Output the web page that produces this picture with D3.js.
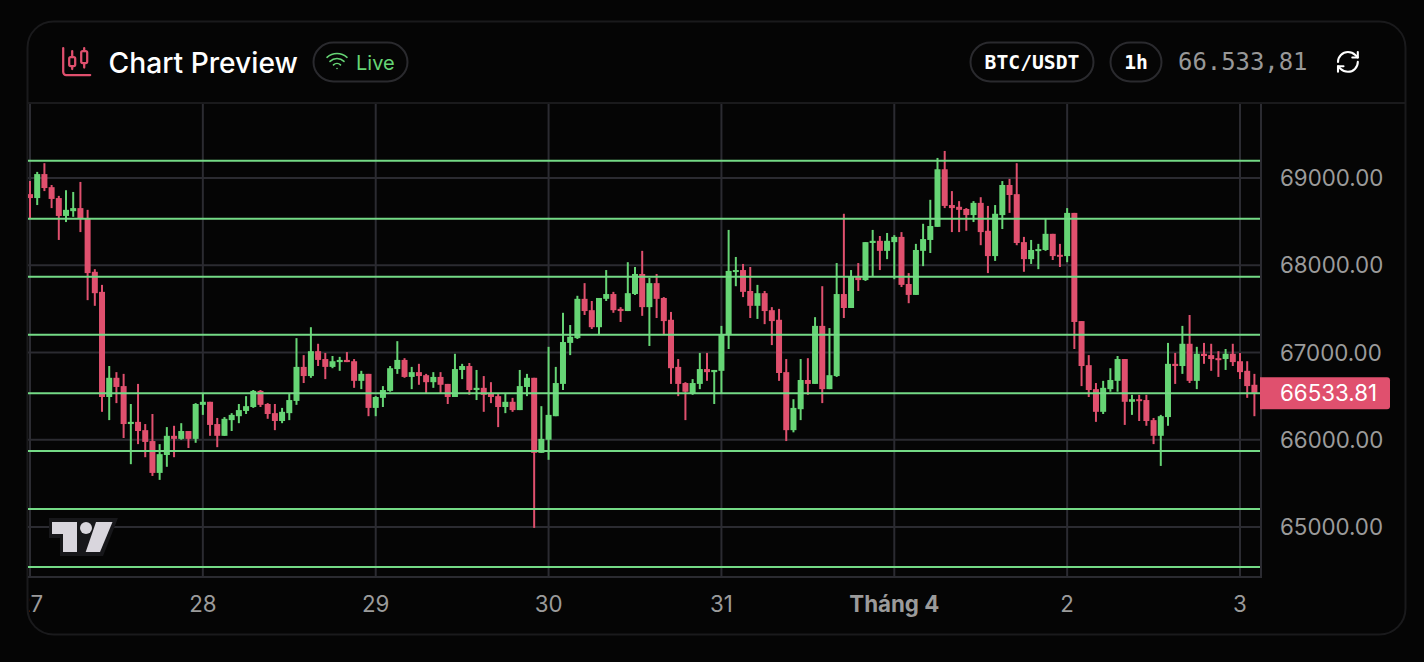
<!DOCTYPE html>
<html>
<head>
<meta charset="utf-8">
<script src="https://cdn.jsdelivr.net/npm/d3@7"></script>
<style>
    html, body { margin: 0; padding: 0; background: #050505; overflow: hidden; }
    text { font-family: Inter, "Noto Sans", sans-serif; }
    .domain { display: none; }
</style>
</head>
<body>
<div id="chartDiv"></div>
<script>
const pageWidth = 1424;
const pageHeight = 662;

// BTC/USDT hourly candles
const opens = [68815,68770,69045,68895,68770,68565,68620,68655,68530,67925,67695,66490,66710,66615,66180,66205,66110,65985,65620,65825,66045,66010,66100,66010,
    66400,66435,66180,66045,66225,66270,66330,66375,66560,66410,66305,66215,66305,66445,66835,66730,67015,66925,66835,66890,66915,66900,66675,66755,
    66365,66480,66560,66810,66915,66720,66775,66740,66660,66720,66640,66490,66800,66845,66570,66595,66525,66500,66375,66435,66340,66605,66710,65850,
    66000,66270,66640,67110,67165,67615,67485,67290,67615,67670,67500,67475,67670,67900,67520,67795,67625,67375,66835,66650,66535,66640,66810,66775,
    66790,67200,67925,67945,67705,67535,67680,67485,67375,66775,66110,66350,66685,66640,67305,66580,66730,67670,67510,67865,67830,68255,68280,68165,
    68265,68325,67785,67660,68165,68290,68440,69100,68690,68670,68645,68575,68715,68395,68105,68575,68920,68815,68265,68070,68165,68175,68360,68120,
    68105,68600,67360,66855,66580,66320,66580,66675,66925,66435,66465,66455,66225,66045,66260,66870,66845,67100,66675,66985,66970,66935,66925,66985,
    66900,66790,66630];
const highs = [68965,69070,69170,68920,68795,68860,68840,68955,68635,67955,67775,66845,66775,66755,66410,66640,66180,66295,65950,66145,66160,66190,66100,66420,
    66535,66435,66250,66260,66305,66410,66500,66570,66570,66420,66410,66365,66535,67165,66970,67290,67100,66995,66960,66950,67005,66925,66790,66755,
    66500,66615,66845,67130,66935,66835,66870,66755,66775,66775,66640,66985,66870,66880,66800,66730,66660,66525,66525,66480,66800,66755,66710,66385,
    67065,66835,67455,67315,67650,67795,67590,67625,67945,67695,67520,68035,67980,68165,67855,67900,67635,67465,66925,66660,66695,66995,66995,66800,
    67305,68405,68095,68015,67980,67775,67705,67520,67500,66925,66465,66925,66935,67405,67760,67280,68025,68590,67945,68025,68265,68405,68335,68370,
    68345,68380,67910,68245,68475,68750,69230,69310,68850,68735,68655,68735,68780,68680,68690,68965,68990,69170,68325,68290,68245,68530,68360,68245,
    68655,68600,67360,66970,66650,66675,66820,66960,66925,66515,66515,66515,66250,66285,67110,66995,67305,67430,67065,67110,67100,67015,67040,67100,
    66995,66900,66755];
const lows = [68540,68690,68850,68655,68290,68495,68555,68380,67600,67535,66320,66225,66420,66020,65720,65950,65800,65585,65540,65690,65800,66000,65905,65965,
    66285,66045,65915,66045,66100,66190,66295,66365,66375,66240,66110,66190,66225,66400,66650,66710,66845,66695,66820,66790,66890,66595,66580,66270,
    66270,66375,66550,66755,66710,66580,66630,66535,66595,66535,66410,66490,66695,66515,66455,66320,66420,66145,66305,66320,66340,66500,64990,65850,
    65770,66270,66570,66970,67155,67430,67270,67200,67590,67455,67350,67475,67660,67420,67075,67395,67200,66640,66500,66225,66515,66580,66675,66410,
    66535,67040,67760,67635,67395,67385,67325,67085,66675,65985,66085,66225,66515,66640,66420,66580,66720,67395,67510,67705,67820,67865,67945,68070,
    67840,67750,67565,67660,67990,68140,68440,68655,68380,68380,68395,68495,68230,67910,68050,68415,68600,68230,67925,68015,67955,68165,68060,67980,
    68035,67040,66615,66490,66205,66295,66550,66550,66170,66285,66215,66160,65950,65700,66160,66640,66755,66650,66580,66870,66790,66720,66800,66845,
    66695,66480,66270];
const closes = [68770,69045,68885,68760,68565,68635,68655,68530,67910,67680,66490,66710,66605,66180,66205,66100,65975,65620,65835,66045,66010,66100,66010,66410,
    66435,66170,66045,66240,66285,66340,66385,66560,66400,66295,66215,66320,66455,66835,66730,67015,66915,66835,66900,66915,66890,66675,66755,66365,
    66490,66570,66820,66915,66720,66775,66730,66660,66720,66630,66490,66810,66845,66570,66595,66515,66490,66375,66435,66340,66615,66710,65850,66010,
    66285,66650,67120,67180,67615,67475,67290,67625,67670,67485,67475,67680,67900,67520,67795,67615,67360,66820,66640,66550,66650,66810,66775,66800,
    67200,67935,67945,67695,67535,67680,67475,67360,66765,66110,66365,66685,66640,67305,66580,66740,67670,67510,67865,67830,68265,68280,68165,68280,
    68325,67775,67660,68175,68300,68450,69100,68680,68655,68635,68575,68715,68380,68105,68590,68920,68805,68255,68070,68175,68185,68360,68105,68105,
    68600,67350,66845,66570,66320,66595,66685,66925,66435,66465,66445,66215,66045,66270,66870,66845,67100,66675,66985,66960,66925,66925,66985,66890,
    66775,66615,66533.81];

// hour index of each day tick, with its label
const dayTicks = [0, 24, 48, 72, 96, 120, 144, 168];
const dayLabels = ["27", "28", "29", "30", "31", "Tháng 4", "2", "3"];
const priceTicks = [65000, 66000, 67000, 68000, 69000];
const priceLines = [69198, 68533, 67868, 67204, 66533.81, 65871, 65207, 64542];
const lastPrice = 66533.81;

const upColor = "#66d575";
const downColor = "#e0506e";
const gridColor = "#2b2b31";
const lineColor = "#74da86";
const labelColor = "#9b9b9b";

const plot = { left: 28, right: 1261, top: 104, bottom: 577 };

const svg = d3.select("#chartDiv").append("svg")
    .attr("width", pageWidth)
    .attr("height", pageHeight)
    .style("display", "block");

const x = d3.scaleLinear().domain([0, 168]).range([30, 1240]);
const y = d3.scaleLinear().domain([65000, 69000]).range([527, 178]);

// card
svg.append("rect")
    .attr("x", 27.5).attr("y", 21.5)
    .attr("width", 1378).attr("height", 613)
    .attr("rx", 26)
    .attr("fill", "#050505")
    .attr("stroke", "#1a1a1c")
    .attr("stroke-width", 2);

svg.append("line")
    .attr("x1", 28).attr("x2", 1405)
    .attr("y1", 103).attr("y2", 103)
    .attr("stroke", "#1a1a1c")
    .attr("stroke-width", 2);

drawHeader();

svg.append("clipPath").attr("id", "plotClip").append("rect")
    .attr("x", plot.left).attr("y", plot.top)
    .attr("width", plot.right - plot.left).attr("height", plot.bottom - plot.top);

svg.append("clipPath").attr("id", "axisClip").append("rect")
    .attr("x", 29).attr("y", plot.bottom)
    .attr("width", 1300).attr("height", 50);

// grid comes from the axes' tick lines
const xGrid = svg.append("g")
    .attr("transform", "translate(0," + plot.bottom + ")")
    .call(d3.axisBottom(x).tickValues(dayTicks).tickSize(-(plot.bottom - plot.top)).tickFormat("").offset(0));
xGrid.selectAll("line").attr("stroke", gridColor).attr("stroke-width", 2);

const yGrid = svg.append("g")
    .attr("transform", "translate(" + plot.right + ",0)")
    .call(d3.axisLeft(y).tickValues(priceTicks).tickSize(plot.right - plot.left).tickFormat("").offset(0));
yGrid.selectAll("line").attr("stroke", gridColor).attr("stroke-width", 2);

// plot borders
svg.append("line")
    .attr("x1", plot.left).attr("x2", plot.right + 1)
    .attr("y1", plot.bottom).attr("y2", plot.bottom)
    .attr("stroke", gridColor).attr("stroke-width", 2);
svg.append("line")
    .attr("x1", plot.right).attr("x2", plot.right)
    .attr("y1", plot.top).attr("y2", plot.bottom)
    .attr("stroke", gridColor).attr("stroke-width", 2);

drawLogo();

// candles
const candles = svg.append("g").attr("clip-path", "url(#plotClip)");
const candleIdx = d3.range(closes.length);

candles.selectAll(".wick")
    .data(candleIdx)
    .enter()
    .append("line")
    .attr("class", "wick")
    .attr("x1", i => x(i))
    .attr("x2", i => x(i))
    .attr("y1", i => y(highs[i]))
    .attr("y2", i => y(lows[i]))
    .attr("stroke", i => closes[i] >= opens[i] ? upColor : downColor)
    .attr("stroke-width", 2);

candles.selectAll(".body")
    .data(candleIdx)
    .enter()
    .append("rect")
    .attr("class", "body")
    .attr("x", i => x(i) - 3)
    .attr("width", 6)
    .attr("y", i => y(Math.max(opens[i], closes[i])))
    .attr("height", i => Math.max(2, Math.abs(y(opens[i]) - y(closes[i]))))
    .attr("fill", i => closes[i] >= opens[i] ? upColor : downColor);

// the green horizontal price lines sit on top of the candles
svg.selectAll(".priceLine")
    .data(priceLines)
    .enter()
    .append("line")
    .attr("class", "priceLine")
    .attr("x1", plot.left)
    .attr("x2", plot.right - 1)
    .attr("y1", d => y(d))
    .attr("y2", d => y(d))
    .attr("stroke", lineColor)
    .attr("stroke-width", 2);

// axis labels, the clip cuts the first day label at the plot edge
const xAxis = svg.append("g")
    .attr("clip-path", "url(#axisClip)")
    .append("g")
    .attr("transform", "translate(0," + plot.bottom + ")")
    .call(d3.axisBottom(x).tickValues(dayTicks).tickSize(0).tickPadding(19).offset(0)
        .tickFormat((d, i) => dayLabels[i]));
xAxis.selectAll("text")
    .attr("fill", labelColor)
    .style("font-size", "22.3px")
    .style("font-weight", d => d === 120 ? 700 : 400)
    .style("font-family", "Inter, sans-serif");

const yAxis = svg.append("g")
    .attr("transform", "translate(" + plot.right + ",0)")
    .call(d3.axisRight(y).tickValues(priceTicks).tickSize(0).tickPadding(19).offset(1)
        .tickFormat(d3.format(".2f")));
yAxis.selectAll("text")
    .attr("fill", labelColor)
    .style("font-size", "22.3px")
    .style("font-family", "Inter, sans-serif");

// last price tag
svg.append("path")
    .attr("d", "M1260 " + (y(lastPrice) - 16) + "h127a3 3 0 0 1 3 3v26a3 3 0 0 1-3 3h-127z")
    .attr("fill", downColor);
svg.append("text")
    .attr("x", 1280)
    .attr("y", y(lastPrice))
    .attr("dy", "0.35em")
    .attr("fill", "#ffffff")
    .style("font-size", "22.3px")
    .text(d3.format(".2f")(lastPrice));

function strokeIcon(ox, oy, scale, color, width, paths) {
    const g = svg.append("g")
        .attr("transform", "translate(" + ox + "," + oy + ") scale(" + scale + ")")
        .attr("fill", "none")
        .attr("stroke", color)
        .attr("stroke-width", width)
        .attr("stroke-linecap", "round")
        .attr("stroke-linejoin", "round");
    paths.forEach(p => g.append("path").attr("d", p));
    return g;
}

function pill(x0, x1, y0, y1) {
    svg.append("rect")
        .attr("x", x0 + 0.5).attr("y", y0 + 0.5)
        .attr("width", x1 - x0 - 1).attr("height", y1 - y0 - 1)
        .attr("rx", (y1 - y0) / 2)
        .attr("fill", "#050505")
        .attr("stroke", "#2a2a2e")
        .attr("stroke-width", 2);
}

function drawHeader() {
    strokeIcon(58.7, 43.5, 1.5, downColor, 1.5, [
        "M9 5v4", "M9 15v2", "M17 3v2", "M17 13v3",
        "M7 10a1 1 0 0 1 1-1h2a1 1 0 0 1 1 1v4a1 1 0 0 1-1 1h-2a1 1 0 0 1-1-1z",
        "M15 6a1 1 0 0 1 1-1h2a1 1 0 0 1 1 1v6a1 1 0 0 1-1 1h-2a1 1 0 0 1-1-1z",
        "M3 3v16a2 2 0 0 0 2 2h16"
    ]);

    svg.append("text")
        .attr("x", 108.5).attr("y", 73)
        .attr("fill", "#ffffff")
        .style("font-size", "28.2px")
        .style("font-weight", 500)
        .text("Chart Preview");

    pill(313, 408, 42, 82);
    strokeIcon(325, 48.5, 1, upColor, 1.6, [
        "M12 20h.01", "M2 8.82a15 15 0 0 1 20 0", "M5 12.859a10 10 0 0 1 14 0", "M8.5 16.429a5 5 0 0 1 7 0"
    ]);
    svg.append("text")
        .attr("x", 356).attr("y", 70)
        .attr("fill", upColor)
        .style("font-size", "20px")
        .style("font-weight", 400)
        .text("Live");

    pill(970, 1094, 42, 82);
    svg.append("text")
        .attr("x", 1032).attr("y", 69)
        .attr("text-anchor", "middle")
        .attr("fill", "#ffffff")
        .style("font-family", "'DejaVu Sans Mono', monospace")
        .style("font-size", "19.7px")
        .style("font-weight", 700)
        .text("BTC/USDT");

    pill(1110, 1162, 42, 82);
    svg.append("text")
        .attr("x", 1136).attr("y", 69)
        .attr("text-anchor", "middle")
        .attr("fill", "#ffffff")
        .style("font-family", "'DejaVu Sans Mono', monospace")
        .style("font-size", "19.7px")
        .style("font-weight", 700)
        .text("1h");

    svg.append("text")
        .attr("x", 1178).attr("y", 70)
        .attr("fill", "#989898")
        .style("font-family", "'DejaVu Sans Mono', monospace")
        .style("font-size", "23.9px")
        .text("66.533,81");

    strokeIcon(1334.7, 48.7, 1.1, "#ffffff", 1.9, [
        "M3 12a9 9 0 0 1 9-9 9.75 9.75 0 0 1 6.74 2.74L21 8",
        "M21 3v5h-5",
        "M21 12a9 9 0 0 1-9 9 9.75 9.75 0 0 1-6.74-2.74L3 16",
        "M8 16H3v5"
    ]);
}

function drawLogo() {
    const logo = svg.append("g");
    logo.append("path")
        .attr("d", "M49 518H118L103 556H60V538H49Z")
        .attr("fill", "#17171a");
    logo.append("path")
        .attr("d", "M52 522H77V552H63V534H52Z")
        .attr("fill", "#d9d6dd");
    logo.append("circle")
        .attr("cx", 86).attr("cy", 528).attr("r", 6)
        .attr("fill", "#d9d6dd");
    logo.append("path")
        .attr("d", "M96 522H112.5L100 552H85.7Z")
        .attr("fill", "#d9d6dd");
}
</script>
</body>
</html>
